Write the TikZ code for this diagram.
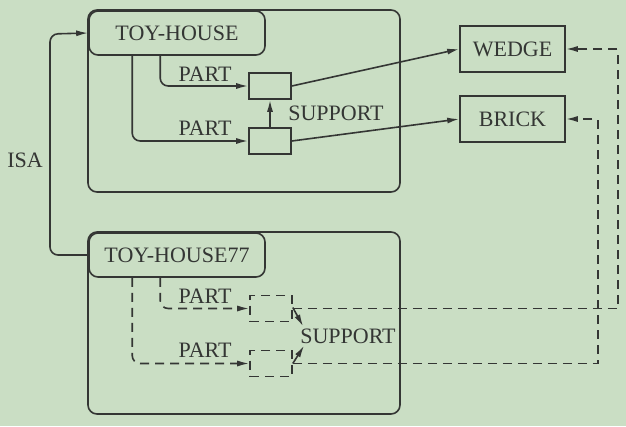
\documentclass[tikz,border=0pt]{standalone}
\usepackage{fontspec}
\setmainfont{Liberation Serif}
\usetikzlibrary{arrows.meta,calc}
\definecolor{bg}{RGB}{202,222,196}
\definecolor{ink}{RGB}{52,54,52}
\begin{document}
\begin{tikzpicture}[x=1pt,y=-1pt,
  every node/.style={font=\fontsize{22}{26}\selectfont, text=ink},
  line/.style={draw=ink, line width=1.6pt},
  arr/.style={line, -{Latex[length=12pt,width=6pt]}},
  dsh/.style={dash pattern=on 9pt off 6pt},
  bigbox/.style={line, rounded corners=9pt, minimum width=312pt, minimum height=182pt, inner sep=0pt},
  titlebox/.style={line, rounded corners=9pt, minimum width=176pt, minimum height=44pt, inner sep=0pt},
  smallbox/.style={line, minimum width=42pt, minimum height=26pt, inner sep=0pt},
  objbox/.style={line, minimum width=105pt, minimum height=46pt, inner sep=0pt},
  lbl/.style={inner sep=0pt}]
\fill[bg] (0,0) rectangle (626,426);
\useasboundingbox (0,0) rectangle (626,426);

% top frame
\node[bigbox] (big1) at (244,101) {};
\node[titlebox] (th) at (177,33) {TOY-HOUSE};
\node[smallbox] (s1) at (270,86) {};
\node[smallbox] (s2) at (270,141) {};

% bottom frame
\node[bigbox] (big2) at (244,323) {};
\node[titlebox] (th77) at (177,255) {TOY-HOUSE77};
\node[smallbox, dsh] (d1) at (271,308.5) {};
\node[smallbox, dsh] (d2) at (271,363.5) {};

% objects
\node[objbox] (wedge) at (512.5,49) {WEDGE};
\node[objbox] (brick) at (512.5,119) {BRICK};

% labels
\node[lbl] (p1) at (205,74) {PART};
\node[lbl] (p2) at (205,128) {PART};
\node[lbl] (sup1) at (336,113) {SUPPORT};
\node[lbl] (p3) at (205,296) {PART};
\node[lbl] (p4) at (205,350) {PART};
\node[lbl] (sup2) at (348,336) {SUPPORT};
\node[lbl] (isa) at (25,160) {ISA};

% top connectors
\draw[arr, rounded corners=8pt] ($(th.south west)+(72,0)$) |- (s1.west);
\draw[arr, rounded corners=8pt] ($(th.south west)+(44,0)$) |- (s2.west);
\draw[arr] (s2.north) -- (s1.south);
\draw[arr] (s1.east) -- (wedge.west);
\draw[arr] (s2.east) -- (brick.west);

% ISA
\coordinate (isaA) at (50,255);
\coordinate (isaB) at (50,34);
\draw[arr, rounded corners=8pt] (th77.west) -- (isaA) -- (isaB) -- (th.west);

% bottom connectors
\draw[arr, dsh, rounded corners=8pt] ($(th77.south west)+(72,0)$) |- (d1.west);
\draw[arr, dsh, rounded corners=8pt] ($(th77.south west)+(44,0)$) |- (d2.west);
\draw[arr] ($(d1.east)+(0,-1)$) -- ($(sup2.north west)+(3,-2)$);
\draw[arr] ($(d2.east)+(0,0)$) -- ($(sup2.south west)+(4,2)$);
\draw[arr, dsh] (d1.east) -- ++(325,0) |- (wedge.east);
\draw[arr, dsh] (d2.east) -- ++(305,0) |- (brick.east);
\end{tikzpicture}
\end{document}
